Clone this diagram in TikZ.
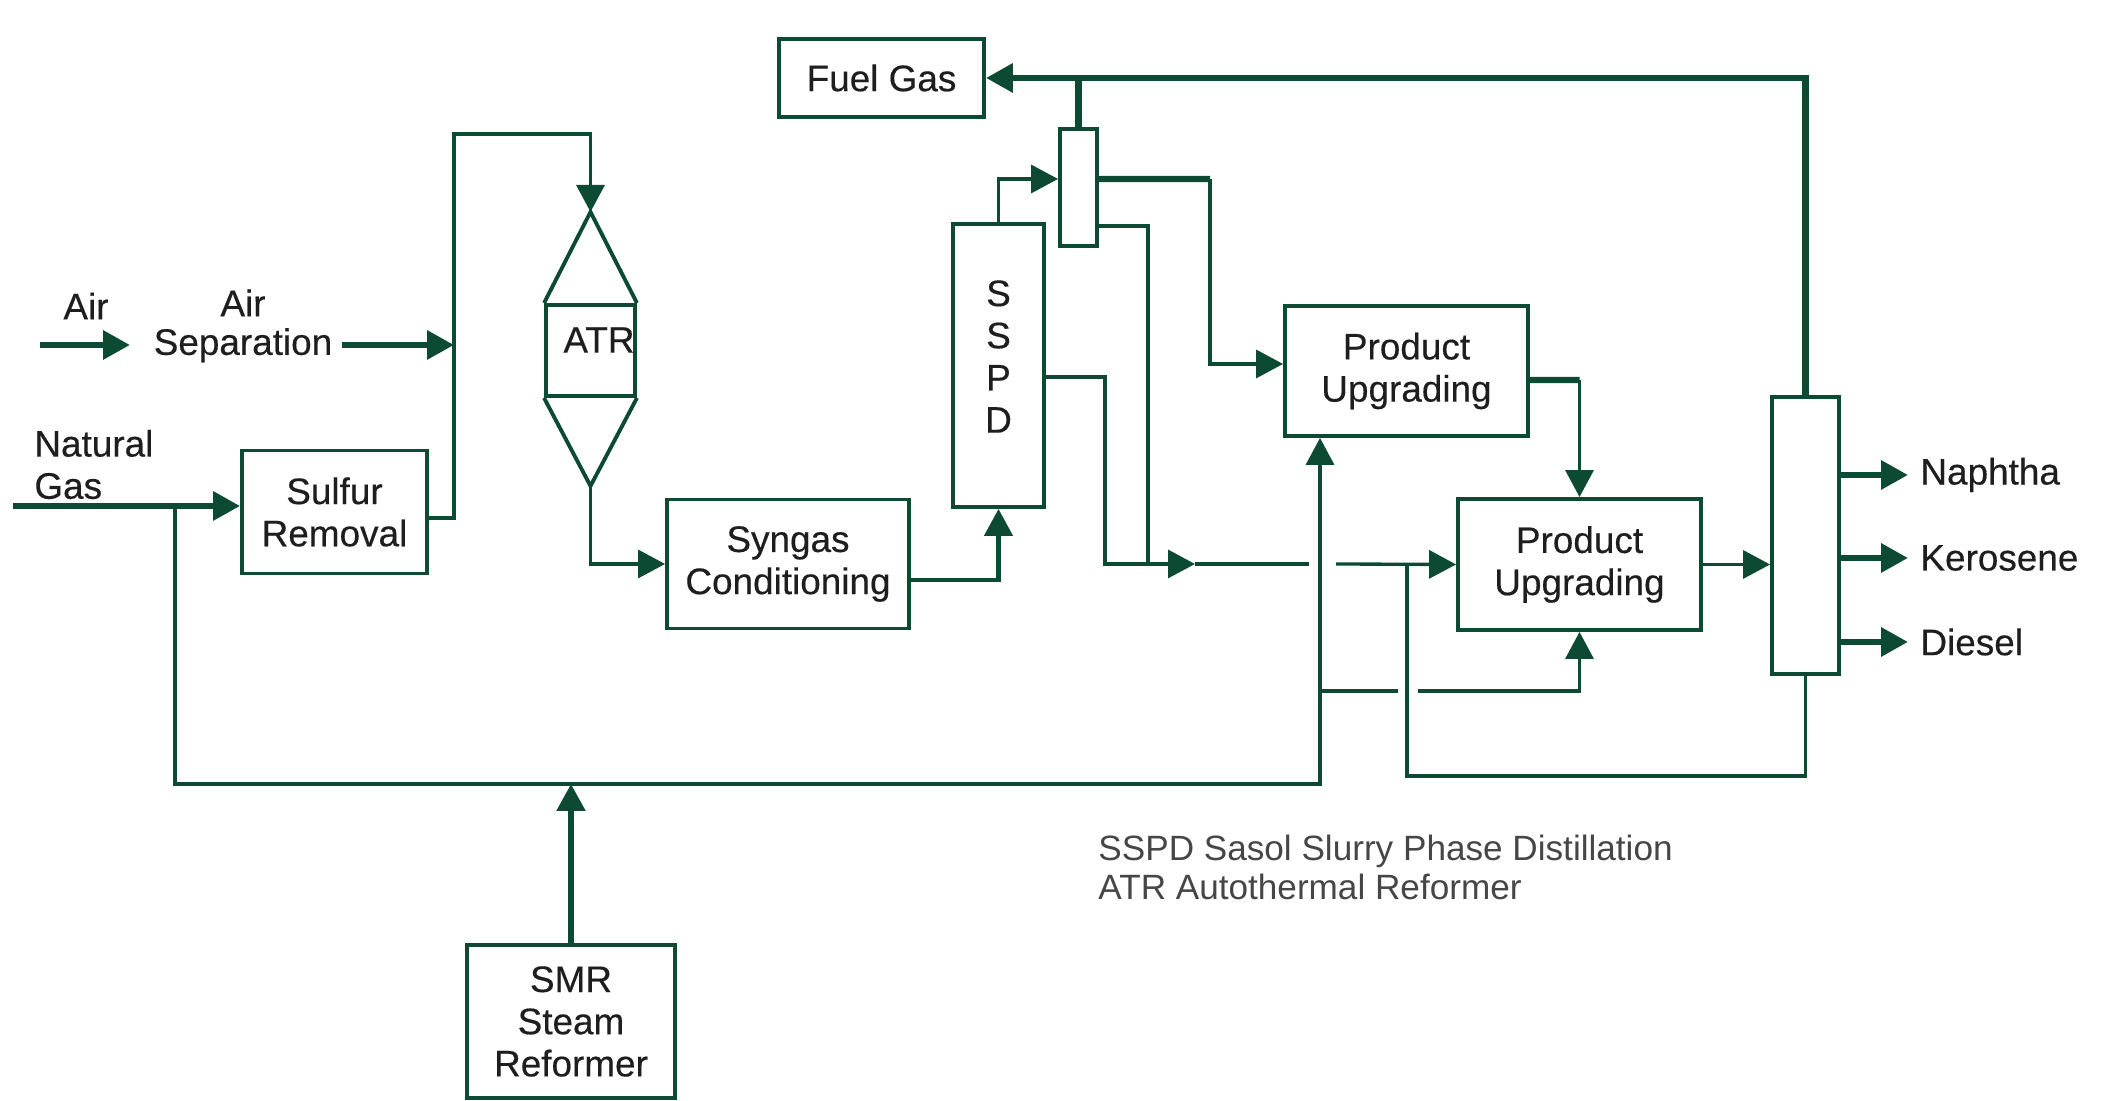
\documentclass[tikz,border=0pt]{standalone}
\usepackage{fontspec}
\setmainfont{Liberation Sans}
\newfontfamily\unitfont[FakeBold=0.35]{Liberation Sans}
\usetikzlibrary{arrows.meta, positioning}
\definecolor{pipegreen}{RGB}{12,74,52}
\definecolor{labelgray}{RGB}{30,30,30}
\definecolor{notegray}{RGB}{70,70,70}

\tikzset{
  unit/.style={draw=pipegreen, line width=1.1pt, fill=white, text=labelgray,
    align=center, inner sep=0pt, font=\unitfont\fontsize{10.5}{12}\selectfont},
  lbl/.style={text=labelgray, font=\unitfont\fontsize{10.5}{12}\selectfont},
  pipe/.style={draw=pipegreen, line width=0.95pt},
  mainpipe/.style={draw=pipegreen, line width=1.8pt},
}

\begin{document}
\begin{tikzpicture}[>={Triangle[length=2.7mm, width=2.8mm]}]
  \useasboundingbox (0,0) rectangle (21.05,11.01);

  % Process units
  \node[unit, minimum width=18.5mm, minimum height=12.3mm] (sulfur) at (3.345, 5.89) {Sulfur\\Removal};
  \node[unit, minimum width=8.9mm, minimum height=9.1mm] (atr) at (5.905, 7.505) {};
  \node[lbl, inner sep=0pt] (atrlbl) at (5.99, 7.61) {ATR};
  \node[unit, minimum width=24.2mm, minimum height=12.9mm] (syngas) at (7.88, 5.37) {Syngas\\Conditioning};
  \node[unit, minimum width=9.1mm, minimum height=28.3mm] (sspd) at (9.985, 7.355) {};
  \node[lbl, align=center, inner sep=0pt] (sspdlbl) at ([yshift=0.9mm]sspd.center) {S\\S\\P\\D};
  \node[unit, minimum width=3.7mm, minimum height=11.7mm] (col1) at (10.785, 9.135) {};
  \node[unit, minimum width=20.5mm, minimum height=7.8mm] (fuel) at (8.815, 10.23) {Fuel Gas};
  \node[unit, minimum width=24.3mm, minimum height=13mm] (pu1) at (14.065, 7.30) {Product\\Upgrading};
  \node[unit, minimum width=24.3mm, minimum height=13.1mm] (pu2) at (15.795, 5.365) {Product\\Upgrading};
  \node[unit, minimum width=6.7mm, minimum height=27.7mm] (col2) at (18.055, 5.655) {};
  \node[unit, minimum width=20.8mm, minimum height=15.3mm] (smr) at (5.71, 0.795) {SMR\\Steam\\Reformer};

  % ATR cones
  \coordinate (atrtop) at (5.905, 8.89);
  \coordinate (atrbot) at (5.905, 6.15);
  \draw[pipe, line width=1.1pt] (atr.north west) -- (atrtop) -- (atr.north east);
  \draw[pipe, line width=1.1pt] (atr.south west) -- (atrbot) -- (atr.south east);

  % Air and air separation
  \coordinate (airin) at (0.40, 7.56);
  \coordinate (airout) at (1.30, 7.56);
  \coordinate (oxout) at (3.42, 7.56);
  \coordinate (oxtee) at (4.54, 7.56);
  \draw[mainpipe, ->] (airin) -- (airout);
  \node[lbl] (airlbl) at (0.86, 7.95) {Air};
  \node[lbl, align=center, font=\unitfont\fontsize{10.5}{11}\selectfont] (asep) at (2.43, 7.75) {Air\\Separation};
  \draw[mainpipe, ->] (oxout) -- (oxtee);

  % Natural gas feed
  \coordinate (ngin) at (0.13, 5.95);
  \coordinate (ngtee) at (1.75, 5.95);
  \node[lbl, align=left, anchor=west] (nglbl) at (0.22, 6.365) {Natural\\Gas};
  \draw[mainpipe, ->] (ngin) -- (ngin -| sulfur.west);

  % Sulfur removal to ATR
  \draw[pipe, ->] ([yshift=-0.6mm]sulfur.east) -| (4.54, 9.67) -| (atrtop);

  % ATR to syngas conditioning to SSPD
  \draw[pipe, ->] (atrbot) |- (syngas.west);
  \draw[pipe, line width=1.3pt, ->] ([yshift=-1.6mm]syngas.east) -| (sspd.south);

  % Bypass gas and SMR
  \coordinate (mix) at (13.20, 3.17);
  \draw[pipe, ->] (ngtee) |- (mix) -- (mix |- pu1.south);
  \draw[pipe, line width=1.5pt, ->] (smr.north) -- (smr.north |- mix);

  % SSPD overhead to column
  \draw[pipe, ->] (sspd.north) |- ([yshift=0.85mm]col1.west);

  % Fuel gas header
  \draw[mainpipe, ->] (col2.north) |- (fuel.east);
  \draw[mainpipe] (col1.north) -- (col1.north |- fuel.east);

  % Column to first upgrader
  \draw[mainpipe] ([yshift=0.85mm]col1.east) -- (12.10, 9.22);
  \draw[pipe, ->] (12.10, 9.22) |- ([yshift=0.7mm]pu1.west);
  \draw[pipe] ([yshift=-3.85mm]col1.east) -| (11.48, 5.37);

  % SSPD liquid to second upgrader
  \coordinate (liqarrow) at (11.95, 5.37);
  \draw[pipe, ->] ([yshift=-1.15mm]sspd.east) -| (11.05, 5.37) -- (liqarrow);
  \draw[pipe] (liqarrow) -- (13.09, 5.37);
  \draw[pipe, ->] (13.36, 5.37) -- (pu2.west);

  % First upgrader to second upgrader
  \draw[mainpipe] ([yshift=-0.9mm]pu1.east) -- (15.795, 7.21);
  \draw[pipe, ->] (15.795, 7.21) -- (pu2.north);

  % Bypass gas to second upgrader
  \draw[pipe] (13.20, 4.10) -- (13.98, 4.10);
  \draw[pipe, ->] (14.18, 4.10) -| (pu2.south);

  % Recycle from distillation bottoms
  \draw[pipe] (14.07, 5.37) -- (14.07, 3.25) -| (col2.south);

  % Second upgrader to distillation
  \draw[pipe, ->] (pu2.east) -- (pu2.east -| col2.west);

  % Products
  \foreach \y/\name/\txt in {6.26/naphtha/Naphtha, 5.43/kerosene/Kerosene, 4.59/diesel/Diesel} {
    \node[lbl, anchor=west] (\name) at (19.08, \y) {\txt};
    \draw[mainpipe, ->] (col2.east |- \name.west) -- (\name.west);
  }

  % Legend
  \node[anchor=west, align=left, text=notegray, font=\fontsize{10}{11}\selectfont] (legend)
    at (10.86, 2.335) {SSPD Sasol Slurry Phase Distillation\\ATR Autothermal Reformer};
\end{tikzpicture}
\end{document}
